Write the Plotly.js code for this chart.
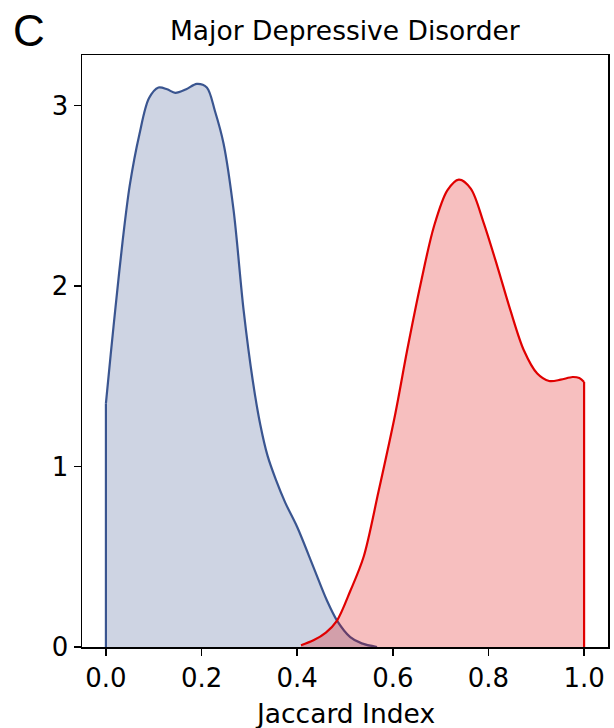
<!DOCTYPE html>
<html>
<head>
<meta charset="utf-8">
<script src="https://cdn.plot.ly/plotly-3.0.1.min.js"></script>
<style>html,body{margin:0;padding:0;background:#fff;}</style>
</head>
<body>
<div id="chart" style="width:614px;height:728px;"></div>
<script>
// Density of Jaccard Index
const controlX = [0, 0.01, 0.02, 0.035, 0.05, 0.07, 0.09, 0.11, 0.128, 0.145, 0.168, 0.19, 0.211, 0.228, 0.246, 0.267, 0.288, 0.307, 0.323, 0.338, 0.355, 0.375, 0.40, 0.434, 0.462, 0.483, 0.511, 0.535, 0.567];
const controlY = [1.35, 1.62, 1.88, 2.25, 2.56, 2.84, 3.04, 3.10, 3.09, 3.07, 3.09, 3.12, 3.10, 2.97, 2.79, 2.42, 1.865, 1.478, 1.23, 1.06, 0.93, 0.80, 0.665, 0.443, 0.259, 0.148, 0.055, 0.02, 0.0];

const caseX = [0.408, 0.434, 0.46, 0.483, 0.511, 0.539, 0.57, 0.605, 0.630, 0.658, 0.686, 0.714, 0.738, 0.763, 0.790, 0.819, 0.846, 0.874, 0.902, 0.927, 0.951, 0.976, 0.99, 1.0];
const caseY = [0.01, 0.037, 0.08, 0.145, 0.31, 0.50, 0.86, 1.29, 1.644, 2.01, 2.33, 2.53, 2.59, 2.54, 2.35, 2.105, 1.865, 1.644, 1.515, 1.474, 1.481, 1.496, 1.49, 1.468];

const xTicks = [0, 0.2, 0.4, 0.6, 0.8, 1.0];
const xTickText = ["0.0", "0.2", "0.4", "0.6", "0.8", "1.0"];
const yTicks = [0, 1, 2, 3];
const yTickText = ["0", "1", "2", "3"];

const panelLabel = "C";
const chartTitle = "Major Depressive Disorder";
const xLabel = "Jaccard Index";

const blue = "#3a5590";
const red = "#e00000";

const nR = caseX.length;
const traces = [
  {x: controlX, y: controlY, type: "scatter", mode: "lines", fill: "tozeroy",
   line: {color: blue, width: 2.2, shape: "spline", smoothing: 0.9},
   fillcolor: "rgba(58,85,144,0.25)", hoverinfo: "skip"},
  // vertical cut edge at the left boundary of the control density
  {x: [controlX[0], controlX[0]], y: [0, controlY[0]], type: "scatter", mode: "lines",
   line: {color: blue, width: 2.2}, hoverinfo: "skip"},
  {x: caseX, y: caseY, type: "scatter", mode: "lines", fill: "tozeroy",
   line: {color: red, width: 2.2, shape: "spline", smoothing: 0.9},
   fillcolor: "rgba(224,0,0,0.25)", hoverinfo: "skip"},
  // vertical cut edge at the right boundary of the case density
  {x: [caseX[nR - 1], caseX[nR - 1]], y: [caseY[nR - 1], 0], type: "scatter", mode: "lines",
   line: {color: red, width: 2.2}, hoverinfo: "skip"}
];

const axisFont = {family: "DejaVu Sans", size: 26, color: "#000"};

const layout = {
  width: 614, height: 728,
  margin: {l: 82, r: 6, t: 55, b: 81},
  paper_bgcolor: "#fff", plot_bgcolor: "#fff",
  showlegend: false,
  xaxis: {
    range: [-0.05, 1.05], tickvals: xTicks, ticktext: xTickText,
    showgrid: false, zeroline: false,
    showline: true, mirror: true, linecolor: "#000", linewidth: 1.5,
    ticks: "outside", ticklen: 7, tickwidth: 1.5, tickcolor: "#000",
    tickfont: axisFont
  },
  yaxis: {
    range: [0, 3.28], tickvals: yTicks, ticktext: yTickText,
    showgrid: false, zeroline: false,
    showline: true, mirror: true, linecolor: "#000", linewidth: 1.5,
    ticks: "outside", ticklen: 7, tickwidth: 1.5, tickcolor: "#000",
    tickfont: axisFont
  },
  annotations: [
    {text: panelLabel, xref: "paper", yref: "paper", x: -0.101, y: 1.042,
     xanchor: "center", yanchor: "middle", showarrow: false,
     font: {family: "Liberation Sans", size: 44, color: "#000"}},
    {text: chartTitle, xref: "paper", yref: "paper", x: 0.5, y: 1.042,
     xanchor: "center", yanchor: "middle", showarrow: false,
     font: {family: "DejaVu Sans", size: 26.5, color: "#000"}},
    {text: xLabel, xref: "paper", yref: "paper", x: 0.5, y: -0.112,
     xanchor: "center", yanchor: "middle", showarrow: false,
     font: {family: "DejaVu Sans", size: 26.5, color: "#000"}}
  ]
};

Plotly.newPlot("chart", traces, layout, {displayModeBar: false, staticPlot: true});
</script>
</body>
</html>
